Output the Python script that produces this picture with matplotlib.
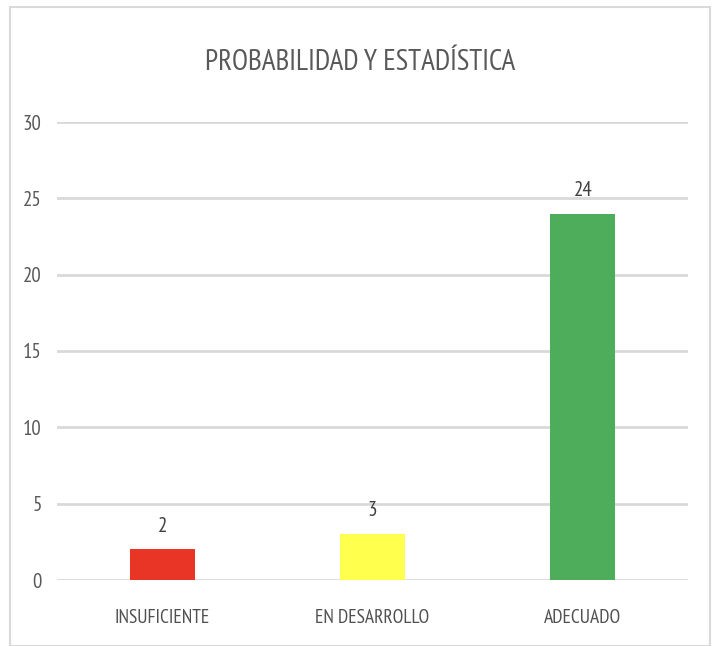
import matplotlib
matplotlib.use("Agg")
import matplotlib.pyplot as plt
from matplotlib.patches import Rectangle
from matplotlib import font_manager

categories = ["INSUFICIENTE", "EN DESARROLLO", "ADECUADO"]
values = [2, 3, 24]
colors = ["#E83525", "#FFFF4D", "#4EAD5B"]
yticks = [0, 5, 10, 15, 20, 25, 30]
title = "PROBABILIDAD Y ESTADÍSTICA"

regular = {f.name for f in font_manager.fontManager.ttflist
           if f.style == "normal" and f.weight in (400, "normal", "regular")}
prefs = ["PT Sans Narrow", "Roboto Condensed", "Archivo Narrow", "Fira Sans Condensed",
         "Encode Sans Condensed", "Liberation Sans Narrow", "Open Sans Condensed", "Open Sans"]
chosen = next(p for p in prefs if p in regular)
plt.rcParams['font.family'] = [chosen, "DejaVu Sans"]
plt.rcParams['font.weight'] = "normal"

fig = plt.figure(figsize=(7.16, 6.46), dpi=100)
fig.patches.append(Rectangle((10/716, 0), 700/716, 1 - 7/646, transform=fig.transFigure,
                             fill=False, edgecolor="#d9d9d9", linewidth=1.5))
ax = fig.add_axes([57/716, 1 - 580/646, 631/716, (580 - 122)/646])
x = range(len(categories))
ax.bar(x, values, width=0.31, color=colors, zorder=3)
for xi, v in zip(x, values):
    ax.text(xi, v + 0.9, str(v), ha="center", va="bottom", fontsize=15, color="#404040")
ax.set_xlim(-0.5, 2.5)
ax.set_ylim(0, 30)
ax.set_yticks(yticks)
ax.set_yticklabels([str(t) for t in yticks])
ax.set_xticks(list(x))
ax.set_xticklabels(categories)
ax.grid(axis="y", color="#d9d9d9", linewidth=2, zorder=0)
ax.set_axisbelow(True)
for s in ax.spines.values():
    s.set_visible(False)
ax.tick_params(axis="y", length=0, labelsize=15, labelcolor="#595959", pad=11)
ax.tick_params(axis="x", length=0, labelsize=14, labelcolor="#505050", pad=21)
fig.text(360/716, 1 - 63/646, title, ha="center", va="center", fontsize=21, color="#595959")
fig.savefig("out.png", dpi=100)
